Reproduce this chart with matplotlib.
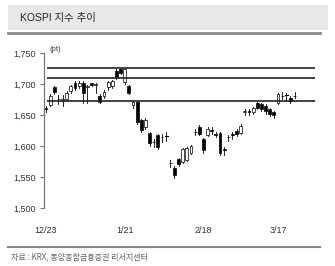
import matplotlib
matplotlib.use("Agg")
import matplotlib.pyplot as plt
from matplotlib.patches import Rectangle
from matplotlib.lines import Line2D

# KOSPI daily candles, 12/23 .. ~3/19
opens = [1661, 1666, 1695, 1676, 1674, 1676, 1689, 1702, 1697, 1702,
         1695, 1701, 1699, 1681, 1681, 1695, 1697, 1721, 1724, 1703,
         1697, 1666, 1671, 1642, 1631, 1621, 1607, 1618, 1614, 1616,
         1573, 1565, 1579, 1574, 1578, 1589, 1623, 1631, 1611, 1618,
         1625, 1620, 1621, 1595, 1614, 1619, 1624, 1621, 1654, 1656,
         1655, 1669, 1667, 1665, 1660, 1655, 1669, 1680, 1682, 1677, 1680]
highs = [1664, 1684, 1697, 1682, 1682, 1688, 1699, 1704, 1705, 1704,
         1698, 1702, 1701, 1684, 1690, 1705, 1707, 1724, 1726, 1726,
         1699, 1673, 1673, 1644, 1645, 1623, 1612, 1620, 1620, 1622,
         1577, 1567, 1581, 1597, 1599, 1602, 1627, 1634, 1613, 1630,
         1630, 1623, 1623, 1598, 1618, 1623, 1627, 1635, 1660, 1660,
         1663, 1671, 1670, 1667, 1662, 1657, 1686, 1687, 1685, 1680, 1687]
lows = [1655, 1664, 1684, 1668, 1664, 1672, 1686, 1691, 1694, 1669,
        1669, 1696, 1686, 1670, 1677, 1690, 1694, 1708, 1716, 1700,
        1684, 1662, 1636, 1622, 1628, 1600, 1598, 1595, 1606, 1608,
        1566, 1548, 1568, 1572, 1576, 1587, 1618, 1618, 1588, 1616,
        1619, 1614, 1585, 1585, 1608, 1612, 1616, 1619, 1650, 1650,
        1652, 1660, 1657, 1652, 1648, 1645, 1667, 1676, 1672, 1670, 1678]
closes = [1659, 1680, 1687, 1675, 1675, 1685, 1697, 1693, 1702, 1685,
          1696, 1698, 1700, 1671, 1687, 1703, 1704, 1711, 1718, 1724,
          1686, 1671, 1639, 1626, 1642, 1605, 1606, 1598, 1615, 1616,
          1572, 1553, 1571, 1595, 1597, 1600, 1622, 1619, 1594, 1627,
          1624, 1618, 1589, 1594, 1615, 1618, 1619, 1632, 1656, 1655,
          1661, 1662, 1660, 1657, 1652, 1650, 1684, 1681, 1682, 1673, 1681]

ref_levels = [1725, 1710, 1673]

tick_pos = [0, 19, 38, 56]
tick_labels = ['12/23', '1/21', '2/18', '3/17']
y_ticks = [1500, 1550, 1600, 1650, 1700, 1750]

plt.rcParams['font.family'] = ['Liberation Sans', 'Noto Sans CJK KR', 'DejaVu Sans']

fig = plt.figure(figsize=(3.35, 2.66), dpi=100)
ax = fig.add_axes([0.131, 0.218, 0.81, 0.583])

# candles
w = 0.7
for i in range(len(closes)):
    o, h, l, c = opens[i], highs[i], lows[i], closes[i]
    ax.plot([i, i], [l, h], color='black', lw=0.6, zorder=2)
    up = c >= o
    body = abs(c - o)
    if body < 0.8:
        ax.plot([i - w / 2, i + w / 2], [c, c], color='black', lw=0.8, zorder=3)
    else:
        ax.add_patch(Rectangle((i - w / 2, min(o, c)), w, body,
                               facecolor='white' if up else 'black',
                               edgecolor='black', lw=0.5, zorder=3))

ax.hlines(ref_levels, 0.2, 65, colors='#222222', lw=1.2, zorder=4)

ax.set_xlim(-0.5, 65)
ax.set_ylim(1500, 1750)
ax.set_yticks(y_ticks)
ax.set_yticklabels(['{:,}'.format(v) for v in y_ticks])
ax.set_xticks(tick_pos)
ax.set_xticklabels(tick_labels)
ax.tick_params(axis='y', length=3, width=0.8, color='#777777', pad=3,
               labelsize=6.5, labelcolor='#333333')
ax.tick_params(axis='x', length=0, pad=13, labelsize=6.5, labelcolor='#333333')
for s in ['top', 'right', 'bottom']:
    ax.spines[s].set_visible(False)
ax.spines['left'].set_color('#777777')
ax.spines['left'].set_linewidth(0.9)
ax.text(0.02, 1.025, '(pt)', transform=ax.transAxes, fontsize=5.5,
        color='#333333', va='center', ha='left')

# header box
fig.patches.append(Rectangle((8 / 335, 1 - 30 / 266), 320 / 335, 25 / 266,
                             transform=fig.transFigure, facecolor='#e8e8e8',
                             edgecolor='none', zorder=0))
fig.lines.append(Line2D([8 / 335, 320 / 335], [1 - 33 / 266, 1 - 33 / 266],
                        transform=fig.transFigure, color='#8a8a8a', lw=2))
fig.text(20 / 335, 1 - 17.5 / 266, 'KOSPI 지수 추이', fontsize=7.5,
         family=['Liberation Sans', 'Noto Sans CJK KR'], va='center', ha='left',
         color='#222222')

# footer
fig.lines.append(Line2D([8 / 335, 320 / 335], [1 - 247 / 266, 1 - 247 / 266],
                        transform=fig.transFigure, color='#8a8a8a', lw=1.5))
fig.text(11 / 335, 1 - 257 / 266, '자료 : KRX, 동양종합금융증권 리서치센터', fontsize=5.8,
         family=['Noto Sans CJK KR', 'DejaVu Sans'], style='italic',
         va='center', ha='left', color='#666666')

fig.savefig('out.png', dpi=100)
